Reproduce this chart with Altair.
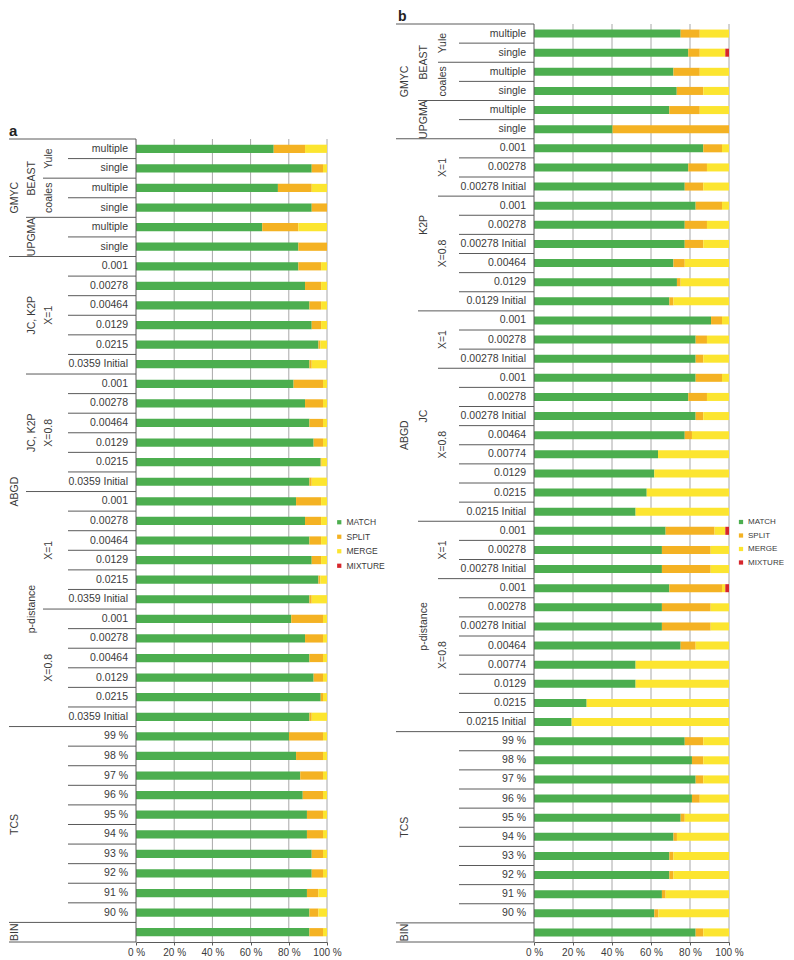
import altair as alt
import pandas as pd

FONT = "Liberation Sans"
TXT = "#3a3a3a"
LINE = "#5a5a5a"
GRID = "#a8a8a8"
CATS = ["MATCH", "SPLIT", "MERGE", "MIXTURE"]
COLORS = ["#4cae4f", "#f4b223", "#fce530", "#d6262c"]
TICKS = [0, 20, 40, 60, 80, 100]
GRID_VALUES = [20, 40, 60, 80, 100]

# ---------------- categories ----------------
gmyc_leaves = ["multiple", "single"]
abgd_a_leaves = ["0.001", "0.00278", "0.00464", "0.0129", "0.0215", "0.0359 Initial"]
tcs_leaves = ["99 %", "98 %", "97 %", "96 %", "95 %", "94 %", "93 %", "92 %", "91 %", "90 %"]
x1_b_leaves = ["0.001", "0.00278", "0.00278 Initial"]
k2p_x08_b_leaves = ["0.001", "0.00278", "0.00278 Initial", "0.00464", "0.0129", "0.0129 Initial"]
long_x08_b_leaves = ["0.001", "0.00278", "0.00278 Initial", "0.00464", "0.00774", "0.0129", "0.0215", "0.0215 Initial"]

gmyc_block = ("GMYC", [("BEAST", [("Yule", gmyc_leaves), ("coales", gmyc_leaves)]),
                       ("UPGMA", [("", gmyc_leaves)])])
tcs_block = ("TCS", [("", [("", tcs_leaves)])])
bin_block = ("BIN", [("", [("", [""])])])

structure_a = [
    gmyc_block,
    ("ABGD", [("JC, K2P", [("X=1", abgd_a_leaves)]),
              ("JC, K2P", [("X=0.8", abgd_a_leaves)]),
              ("p-distance", [("X=1", abgd_a_leaves), ("X=0.8", abgd_a_leaves)])]),
    tcs_block,
    bin_block,
]
structure_b = [
    gmyc_block,
    ("ABGD", [("K2P", [("X=1", x1_b_leaves), ("X=0.8", k2p_x08_b_leaves)]),
              ("JC", [("X=1", x1_b_leaves), ("X=0.8", long_x08_b_leaves)]),
              ("p-distance", [("X=1", x1_b_leaves), ("X=0.8", long_x08_b_leaves)])]),
    tcs_block,
    bin_block,
]

# ---------------- values (%) ----------------
match_a = [72.1, 92.0, 74.3, 92.0, 66.1, 85.0,
           85.0, 88.5, 90.8, 92.0, 95.5, 90.8,
           82.5, 88.5, 90.8, 93.0, 96.7, 90.8,
           83.8, 88.5, 90.8, 92.0, 95.5, 90.8,
           81.3, 88.5, 90.8, 93.0, 96.7, 90.8,
           80.1, 83.8, 86.0, 87.3, 89.5, 89.5, 92.0, 92.0, 89.5, 90.8,
           90.8]
split_a = [16.4, 5.9, 17.7, 8.0, 18.9, 15.0,
           11.9, 8.4, 6.1, 4.9, 1.0, 1.2,
           15.4, 9.4, 7.1, 4.9, 0.5, 1.2,
           13.1, 8.4, 6.1, 4.9, 1.0, 1.2,
           16.6, 9.4, 7.1, 4.9, 1.2, 1.2,
           17.8, 14.1, 11.9, 10.6, 8.4, 8.4, 5.9, 5.9, 6.0, 4.7,
           7.1]
merge_a = [11.5, 2.1, 8.0, 0.0, 15.0, 0.0,
           3.1, 3.1, 3.1, 3.1, 3.5, 8.0,
           2.1, 2.1, 2.1, 2.1, 2.8, 8.0,
           3.1, 3.1, 3.1, 3.1, 3.5, 8.0,
           2.1, 2.1, 2.1, 2.1, 2.1, 8.0,
           2.1, 2.1, 2.1, 2.1, 2.1, 2.1, 2.1, 2.1, 4.5, 4.5,
           2.1]
mixture_a = [0.0] * 41

match_b = [75.2, 79.1, 71.5, 73.2, 69.4, 40.3,
           86.8, 79.1, 77.3,
           82.9, 77.3, 77.3, 71.5, 73.3, 69.4,
           90.8, 82.9, 82.9,
           82.9, 79.1, 82.9, 77.3, 63.6, 61.7, 57.8, 52.1,
           67.5, 65.6, 65.6,
           69.4, 65.6, 65.6, 75.2, 52.1, 52.1, 27.0, 19.3,
           77.3, 81.0, 82.9, 81.0, 75.2, 71.5, 69.4, 69.4, 65.6, 61.7,
           82.9]
split_b = [9.8, 5.9, 13.5, 13.6, 15.6, 59.7,
           9.6, 9.6, 9.5,
           13.5, 11.4, 9.5, 5.8, 1.9, 2.1,
           5.6, 5.8, 3.9,
           13.5, 9.6, 3.9, 3.7, 0.0, 0.0, 0.0, 0.0,
           25.1, 25.0, 25.0,
           27.0, 25.0, 25.0, 7.7, 0.0, 0.0, 0.0, 0.0,
           9.5, 5.8, 3.9, 4.0, 2.1, 1.8, 2.1, 2.1, 1.9, 2.1,
           3.9]
merge_b = [15.0, 13.1, 15.0, 13.2, 15.0, 0.0,
           3.6, 11.3, 13.2,
           3.6, 11.3, 13.2, 22.7, 24.8, 28.5,
           3.6, 11.3, 13.2,
           3.6, 11.3, 13.2, 19.0, 36.4, 38.3, 42.2, 47.9,
           5.5, 9.4, 9.4,
           1.7, 9.4, 9.4, 17.1, 47.9, 47.9, 73.0, 80.7,
           13.2, 13.2, 13.2, 15.0, 22.7, 26.7, 28.5, 28.5, 32.5, 36.2,
           13.2]
mixture_b = [0.0, 1.9, 0.0, 0.0, 0.0, 0.0,
             0.0, 0.0, 0.0,
             0.0, 0.0, 0.0, 0.0, 0.0, 0.0,
             0.0, 0.0, 0.0,
             0.0, 0.0, 0.0, 0.0, 0.0, 0.0, 0.0, 0.0,
             1.9, 0.0, 0.0,
             1.9, 0.0, 0.0, 0.0, 0.0, 0.0, 0.0, 0.0,
             0.0, 0.0, 0.0, 0.0, 0.0, 0.0, 0.0, 0.0, 0.0, 0.0,
             0.0]

X_AXIS = alt.Axis(values=TICKS, labelExpr="datum.value + ' %'", grid=False,
                  domainColor=LINE, tickColor=LINE, tickSize=3, labelFont=FONT,
                  labelFontSize=10, labelColor=TXT, labelPadding=2,
                  labelFlush=False, labelOverlap=False, title=None)


def flatten(structure):
    rows = []
    r = 0
    for i1, (n1, sub1) in enumerate(structure):
        for i2, (n2, sub2) in enumerate(sub1):
            for i3, (n3, leaves) in enumerate(sub2):
                for leaf in leaves:
                    rows.append(dict(row=r, leaf=leaf, n1=n1, n2=n2, n3=n3,
                                     g1=(i1,), g2=(i1, i2), g3=(i1, i2, i3)))
                    r += 1
    return rows


def panel(structure, series, letter, width, top_px, rows_px, starts, centers,
          letter_x, letter_size, legend_x, legend_y, legend_font):
    rows = flatten(structure)
    n = len(rows)
    row_h = rows_px / n
    height = top_px + rows_px
    yscale = alt.Scale(domain=[-0.5 - top_px / row_h, n - 0.5], reverse=True,
                       nice=False, zero=False)
    xscale = alt.Scale(domain=[0, 100], nice=False, zero=True)
    half = 0.21

    # bars
    bar_recs = []
    for i, rw in enumerate(rows):
        start = 0.0
        for cat, vals in zip(CATS, series):
            v = vals[i]
            if v > 0:
                bar_recs.append(dict(cat=cat, x0=start, x1=start + v,
                                     yt=rw["row"] - half, yb=rw["row"] + half))
            start += v
    df_bars = pd.DataFrame(bar_recs)

    # boundaries of the label table
    bnd = [dict(yb=-0.5, level=1), dict(yb=n - 0.5, level=1)]
    for i in range(1, n):
        a, b = rows[i - 1], rows[i]
        if a["g1"] != b["g1"]:
            lvl = 1
        elif a["g2"] != b["g2"]:
            lvl = 2
        elif a["g3"] != b["g3"]:
            lvl = 3
        else:
            lvl = 4
        bnd.append(dict(yb=i - 0.5, level=lvl))
    df_bnd = pd.DataFrame(bnd)

    # group labels
    labs = []
    for lvl in (1, 2, 3):
        seen = {}
        for rw in rows:
            name = rw["n%d" % lvl]
            if not name:
                continue
            seen.setdefault(rw["g%d" % lvl], [name, []])[1].append(rw["row"])
        for key, (name, rr) in seen.items():
            labs.append(dict(level=lvl, text=name, ymid=(min(rr) + max(rr)) / 2))
    df_labs = pd.DataFrame(labs)
    df_rows = pd.DataFrame([dict(row=r["row"], leaf=r["leaf"]) for r in rows])
    df_grid = pd.DataFrame({"g": GRID_VALUES, "y0": -0.5, "y1": n - 0.5})
    df_zero = pd.DataFrame({"g": [0], "y0": [-0.5], "y1": [n - 0.5]})
    df_one = pd.DataFrame({"t": [letter]})

    layers = []
    layers.append(
        alt.Chart(df_grid).mark_rule(color=GRID, strokeWidth=1).encode(
            x=alt.X("g:Q", scale=xscale, title=None, axis=X_AXIS),
            y=alt.Y("y0:Q", scale=yscale, axis=None),
            y2="y1:Q",
        )
    )
    bars = alt.Chart(df_bars).mark_rect().encode(
        x=alt.X("x0:Q", scale=xscale, title=None, axis=X_AXIS),
        x2="x1:Q",
        y=alt.Y("yt:Q", scale=yscale, axis=None),
        y2="yb:Q",
        color=alt.Color("cat:N", scale=alt.Scale(domain=CATS, range=COLORS),
                        legend=alt.Legend(title=None, orient="none",
                                          legendX=legend_x, legendY=legend_y,
                                          symbolType="square", symbolSize=18,
                                          symbolStrokeWidth=0, labelFont=FONT,
                                          labelFontSize=legend_font, labelColor=TXT,
                                          rowPadding=5.5, labelOffset=3, padding=0)),
    )
    layers.append(bars)
    layers.append(
        alt.Chart(df_zero).mark_rule(color=LINE, strokeWidth=1).encode(
            x=alt.X("g:Q", scale=xscale, title=None, axis=X_AXIS),
            y=alt.Y("y0:Q", scale=yscale, axis=None),
            y2="y1:Q",
        )
    )
    for lvl in (1, 2, 3, 4):
        layers.append(
            alt.Chart(df_bnd).transform_filter(alt.datum.level == lvl)
            .mark_rule(color=LINE, strokeWidth=1)
            .encode(x=alt.value(starts[lvl]), x2=alt.value(0),
                    y=alt.Y("yb:Q", scale=yscale, axis=None))
        )
    layers.append(
        alt.Chart(df_rows).mark_text(align="right", baseline="middle", font=FONT,
                                     fontSize=10.5, color=TXT)
        .encode(x=alt.value(-8), y=alt.Y("row:Q", scale=yscale, axis=None),
                text="leaf:N")
    )
    for lvl in (1, 2, 3):
        layers.append(
            alt.Chart(df_labs).transform_filter(alt.datum.level == lvl)
            .mark_text(align="center", baseline="middle", angle=270, font=FONT,
                       fontSize=10.5, color=TXT)
            .encode(x=alt.value(centers[lvl]),
                    y=alt.Y("ymid:Q", scale=yscale, axis=None), text="text:N")
        )
    layers.append(
        alt.Chart(df_one).mark_text(align="left", baseline="alphabetic", font=FONT,
                                    fontSize=letter_size, fontWeight="bold",
                                    color="#222222")
        .encode(x=alt.value(letter_x), y=alt.value(top_px - 3), text="t:N")
    )
    return alt.layer(*layers).properties(width=width, height=height)


panel_a = panel(structure_a, [match_a, split_a, merge_a, mixture_a], "a",
                width=191, top_px=131, rows_px=803,
                starts={1: -127, 2: -110, 3: -93, 4: -68},
                centers={1: -121, 2: -104, 3: -87},
                letter_x=-127, letter_size=15,
                legend_x=199, legend_y=510, legend_font=8.5)
panel_b = panel(structure_b, [match_b, split_b, merge_b, mixture_b], "b",
                width=195, top_px=16, rows_px=918,
                starts={1: -138, 2: -116, 3: -96, 4: -75},
                centers={1: -129, 2: -110.5, 3: -91},
                letter_x=-136, letter_size=14,
                legend_x=203, legend_y=510, legend_font=8)

chart = (
    alt.hconcat(panel_a, panel_b, spacing=10)
    .resolve_scale(x="independent", y="independent", color="independent")
    .properties(padding=0)
    .configure_view(strokeWidth=0)
)

chart.save("out.html", embed_options={"renderer": "svg", "actions": False})
